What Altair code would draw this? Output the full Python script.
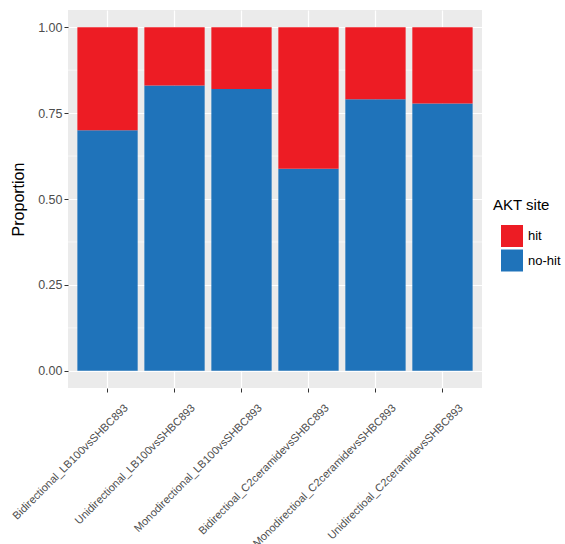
import altair as alt
import pandas as pd

categories = [
    "Bidirectional_LB100vsSHBC893",
    "Unidirectional_LB100vsSHBC893",
    "Monodirectional_LB100vsSHBC893",
    "Bidirectioal_C2ceramidevsSHBC893",
    "Monodirectioal_C2ceramidevsSHBC893",
    "Unidirectioal_C2ceramidevsSHBC893",
]
nohit = [0.70, 0.83, 0.82, 0.588, 0.79, 0.778]
hit = [0.30, 0.17, 0.18, 0.412, 0.21, 0.222]
sites = ["hit", "no-hit"]
colors = ["#ED1C24", "#1F73BA"]
y_ticks = [0.0, 0.25, 0.5, 0.75, 1.0]
minor_ticks = [0.125, 0.375, 0.625, 0.875]

rows = []
for c, nh, h in zip(categories, nohit, hit):
    rows.append({"cat": c, "site": "no-hit", "value": nh, "ord": 0})
    rows.append({"cat": c, "site": "hit", "value": h, "ord": 1})
df = pd.DataFrame(rows)
minor_df = pd.DataFrame({"y": minor_ticks})

FONT = "Liberation Sans"
yscale = alt.Scale(domain=[-0.05, 1.05], nice=False, zero=False)

minor = alt.Chart(minor_df).mark_rule(color="white", strokeWidth=0.6).encode(
    y=alt.Y("y:Q", scale=yscale, axis=None)
)

bars = alt.Chart(df).mark_bar().encode(
    x=alt.X(
        "cat:N",
        sort=categories,
        scale=alt.Scale(paddingInner=0.1, paddingOuter=0.14),
        axis=alt.Axis(
            title=None,
            labelAngle=-45,
            labelAlign="right",
            labelBaseline="middle",
            labelOffset=19,
            labelPadding=14,
            labelFontSize=11,
            labelFont=FONT,
            labelColor="#4D4D4D",
            labelLimit=400,
            tickSize=4,
            tickColor="#333333",
            domain=False,
            grid=True,
            gridColor="white",
            gridWidth=1.2,
            bandPosition=0.5,
            labelOverlap=False,
        ),
    ),
    y=alt.Y(
        "value:Q",
        stack="zero",
        scale=yscale,
        axis=alt.Axis(
            title="Proportion",
            values=y_ticks,
            format=".2f",
            labelFontSize=12.5,
            labelFont=FONT,
            labelColor="#4D4D4D",
            labelPadding=2,
            tickSize=4,
            tickColor="#333333",
            domain=False,
            grid=True,
            gridColor="white",
            gridWidth=1.2,
            titleFont=FONT,
            titleFontSize=16,
            titleFontWeight="normal",
            titleColor="black",
            titleAngle=-90,
            titleX=-50,
            titleY=189,
            titleAlign="center",
            titleBaseline="middle",
        ),
    ),
    color=alt.Color(
        "site:N",
        scale=alt.Scale(domain=sites, range=colors),
        legend=alt.Legend(
            title="AKT site",
            orient="none",
            legendX=425,
            legendY=188,
            padding=0,
            titleFont=FONT,
            titleFontSize=15,
            titleFontWeight="normal",
            titleColor="black",
            titlePadding=12,
            labelFont=FONT,
            labelFontSize=13,
            labelColor="black",
            labelOffset=5,
            symbolType="square",
            symbolSize=484,
            symbolStrokeWidth=0,
            symbolOpacity=1,
            symbolOffset=8,
            rowPadding=2.5,
        ),
    ),
    order=alt.Order("ord:Q", sort="ascending"),
)

chart = alt.layer(minor, bars).resolve_axis(y="independent").properties(
    width=414,
    height=378,
    autosize=alt.AutoSizeParams(type="none"),
    padding={"left": 68, "top": 10, "right": 83, "bottom": 156},
    background="white",
).configure_view(fill="#EBEBEB", stroke=None)

chart.save("out.html", embed_options={"renderer": "svg", "actions": False})
